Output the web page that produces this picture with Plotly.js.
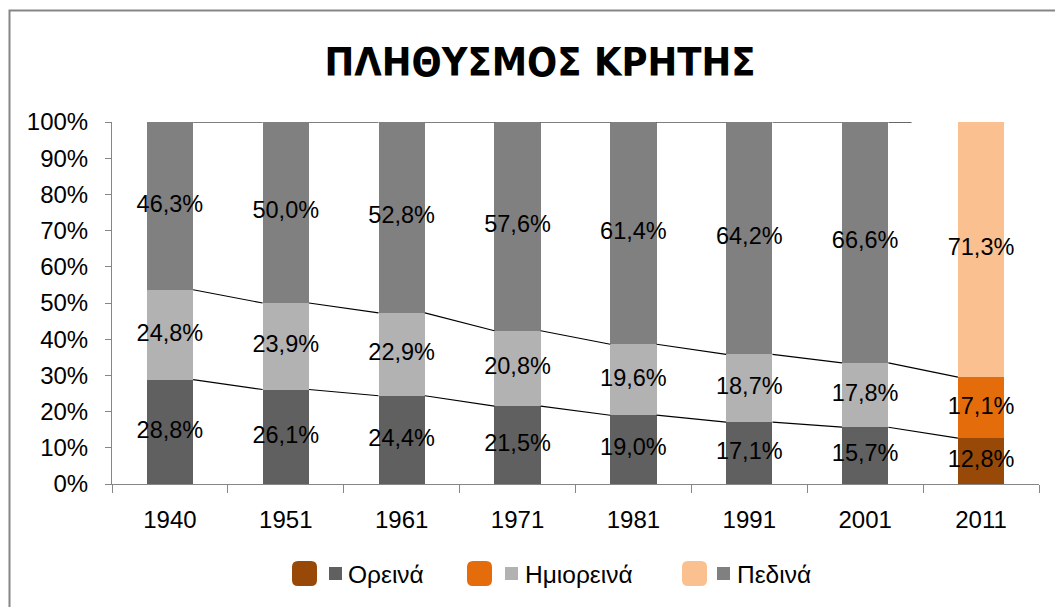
<!DOCTYPE html>
<html>
<head>
<meta charset="utf-8">
<script src="https://cdn.plot.ly/plotly-3.0.1.min.js"></script>
<style>html,body{margin:0;padding:0;background:#fff;}#chart{width:1055px;height:607px;}</style>
</head>
<body>
<div id="chart"></div>
<script>
// ---- data ----
const years = ['1940','1951','1961','1971','1981','1991','2001','2011'];
const oreina = [28.8, 26.1, 24.4, 21.5, 19.0, 17.1, 15.7, 12.8];
const imioreina = [24.8, 23.9, 22.9, 20.8, 19.6, 18.7, 17.8, 17.1];
const pedina = [46.3, 50.0, 52.8, 57.6, 61.4, 64.2, 66.6, 71.3];
const seriesNames = ['Ορεινά', 'Ημιορεινά', 'Πεδινά'];
const yTickVals = [0, 10, 20, 30, 40, 50, 60, 70, 80, 90, 100];
const yTickText = ['0%', '10%', '20%', '30%', '40%', '50%', '60%', '70%', '80%', '90%', '100%'];
const titleText = 'ΠΛΗΘΥΣΜΟΣ ΚΡΗΤΗΣ';

// ---- styles ----
const W = 1055, H = 607;
const M = {l: 112, r: 16, t: 122, b: 123};
const PW = W - M.l - M.r, PH = H - M.t - M.b;
const px2x = p => (p - M.l) / PW;
const py2y = p => (H - M.b - p) / PH;
const greyCols = ['#606060', '#b2b2b2', '#808080'];
const hiCols = ['#984807', '#e46c0a', '#fac090'];
const FONT = 'Liberation Sans, Arial, sans-serif';
const series = [oreina, imioreina, pedina];

const colorArr = k => years.map((y, i) => i === years.length - 1 ? hiCols[k] : greyCols[k]);
const fmt = v => v.toFixed(1).replace('.', ',') + '%';

const traces = series.map((vals, k) => ({
  type: 'bar', x: years, y: vals, name: seriesNames[k],
  marker: {color: colorArr(k), line: {width: 0}},
  textposition: 'none', hoverinfo: 'x+y+name', showlegend: false
}));

// normalized cumulative values (as Excel 100% stacked)
const totals = years.map((y, i) => oreina[i] + imioreina[i] + pedina[i]);
const cum = series.map((vals, k) => years.map((y, i) => {
  let s = 0; for (let j = 0; j <= k; j++) s += series[j][i];
  return s / totals[i] * 100;
}));
const mids = series.map((vals, k) => years.map((y, i) => {
  const lo = k === 0 ? 0 : cum[k - 1][i];
  return (lo + cum[k][i]) / 2;
}));

// labels as text scatter
series.forEach((vals, k) => {
  traces.push({
    type: 'scatter', mode: 'text', x: years, y: mids[k],
    text: vals.map(fmt), textposition: 'middle center',
    textfont: {family: FONT, size: 23.5, color: '#000'},
    hoverinfo: 'skip', showlegend: false, cliponaxis: false
  });
});

const shapes = [];
const hw = 0.2;
// series lines
for (let k = 0; k < 3; k++) {
  for (let i = 0; i < years.length - 1; i++) {
    let x1 = i + 1 - hw;
    if (k === 2 && i === years.length - 2) x1 = i + 0.4;
    shapes.push({type: 'line', xref: 'x', yref: 'y', x0: i + hw, x1: x1,
      y0: cum[k][i], y1: cum[k][i + 1], line: {color: '#000', width: 1.2}, layer: 'above'});
  }
}
// outer frame (top and left edges visible)
shapes.push({type: 'rect', xref: 'paper', yref: 'paper',
  x0: px2x(9.5), x1: px2x(1080), y0: py2y(640), y1: py2y(10.5),
  line: {color: '#868686', width: 2}, fillcolor: 'rgba(0,0,0,0)', layer: 'below'});

// legend
function roundRect(x0, x1, y0, y1, r) {
  const X = px2x, Y = py2y;
  return `M${X(x0 + r)},${Y(y0)} L${X(x1 - r)},${Y(y0)} Q${X(x1)},${Y(y0)} ${X(x1)},${Y(y0 + r)} ` +
    `L${X(x1)},${Y(y1 - r)} Q${X(x1)},${Y(y1)} ${X(x1 - r)},${Y(y1)} L${X(x0 + r)},${Y(y1)} ` +
    `Q${X(x0)},${Y(y1)} ${X(x0)},${Y(y1 - r)} L${X(x0)},${Y(y0 + r)} Q${X(x0)},${Y(y0)} ${X(x0 + r)},${Y(y0)} Z`;
}
const legRound = [292, 467, 682];
const legSq = [329, 505, 717];
const legTxt = [346, 523, 735];
const annotations = [];
for (let k = 0; k < 3; k++) {
  shapes.push({type: 'path', xref: 'paper', yref: 'paper', path: roundRect(legRound[k], legRound[k] + 25, 561, 586, 6),
    fillcolor: hiCols[k], line: {width: 0}});
  shapes.push({type: 'rect', xref: 'paper', yref: 'paper', x0: px2x(legSq[k]), x1: px2x(legSq[k] + 13),
    y0: py2y(580), y1: py2y(567), fillcolor: greyCols[k], line: {width: 0}});
  annotations.push({xref: 'paper', yref: 'paper', x: px2x(legTxt[k]), y: py2y(574), xanchor: 'left', yanchor: 'middle',
    text: seriesNames[k], showarrow: false, font: {family: FONT, size: 24.5, color: '#000'}});
}

const layout = {
  width: W, height: H, margin: M,
  paper_bgcolor: '#fff', plot_bgcolor: '#fff',
  barmode: 'stack', barnorm: 'percent', bargap: 0.6,
  title: {text: '<b>' + titleText + '</b>', x: 540 / W, xanchor: 'center', y: 1 - 62 / H, yanchor: 'middle',
    font: {family: 'DejaVu Sans Condensed, ' + FONT, size: 39.5, color: '#000'}},
  xaxis: {type: 'category', tickson: 'boundaries', ticks: 'outside', ticklen: 8, tickcolor: '#868686',
    showline: true, linecolor: '#868686', linewidth: 1, showgrid: false, zeroline: false,
    tickfont: {family: FONT, size: 24, color: '#000'}, ticklabelstandoff: 14, fixedrange: true},
  yaxis: {range: [0, 100], tickmode: 'array', tickvals: yTickVals, ticktext: yTickText,
    ticks: 'outside', ticklen: 6, tickcolor: '#868686', showline: true, linecolor: '#868686', linewidth: 1,
    showgrid: false, zeroline: false, tickfont: {family: FONT, size: 24, color: '#000'}, ticklabelstandoff: 12,
    fixedrange: true},
  shapes: shapes, annotations: annotations, showlegend: false
};

Plotly.newPlot('chart', traces, layout, {displayModeBar: false, staticPlot: true});
</script>
</body>
</html>
